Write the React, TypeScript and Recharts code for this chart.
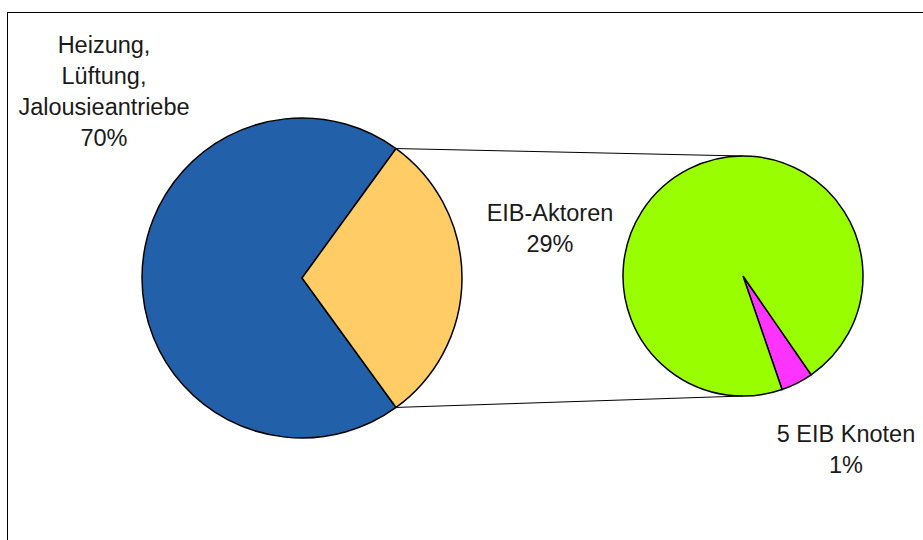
import React from "react";
import { PieChart, Pie, Cell, Customized } from "recharts";

// main pie: the rest vs. the EIB share that gets split in the small pie
const mainNames = ["Heizung, Lüftung, Jalousieantriebe", "EIB"];
const mainValues = [70, 30];
const mainColors = ["#2360AA", "#FFCC66"];

// secondary pie (breakdown of the 30%)
const subNames = ["5 EIB Knoten", "EIB-Aktoren"];
const subValues = [1.3, 28.7];
const subColors = ["#FF33FF", "#99FF00"];

const mainData = mainNames.map((name, i) => ({ name, value: mainValues[i] }));
const subData = subNames.map((name, i) => ({ name, value: subValues[i] }));

// layout
const W = 923;
const H = 540;
const MAIN_CX = 302;
const MAIN_CY = 278;
const MAIN_R = 160;
const SUB_CX = 743;
const SUB_CY = 276;
const SUB_R = 120;
const SUB_START = -71;

const mainTotal = mainValues.reduce((a, b) => a + b, 0);
// the split-off slice sits centered on 3 o'clock
const MAIN_START = (mainValues[1] / mainTotal) * 180;

const FONT = "'Liberation Sans', Arial, sans-serif";
const FS = 23.5;
const LINE = 31;

// where the text blocks sit (center x, first baseline y)
const labelPos: Record<string, { x: number; y: number; lines: string[] }> = {
    "Heizung, Lüftung, Jalousieantriebe": { x: 104, y: 53, lines: ["Heizung,", "Lüftung,", "Jalousieantriebe"] },
    "EIB-Aktoren": { x: 550, y: 221, lines: ["EIB-Aktoren"] },
    "5 EIB Knoten": { x: 846, y: 442, lines: ["5 EIB Knoten"] },
};

const renderLabel = (props: any) => {
    const pos = labelPos[props.name];
    if (!pos) return null;
    const pct = Math.round(props.value) + "%";
    const lines = [...pos.lines, pct];
    return (
        <text
            x={pos.x}
            y={pos.y}
            textAnchor="middle"
            fontFamily={FONT}
            fontSize={FS}
            fill="#1a1a1a"
        >
            {lines.map((l, i) => (
                <tspan key={i} x={pos.x} dy={i === 0 ? 0 : LINE}>
                    {l}
                </tspan>
            ))}
        </text>
    );
};

const Connectors = () => {
    const rad = (MAIN_START * Math.PI) / 180;
    const x1 = MAIN_CX + MAIN_R * Math.cos(rad);
    const yTop = MAIN_CY - MAIN_R * Math.sin(rad);
    const yBot = MAIN_CY + MAIN_R * Math.sin(rad);
    return (
        <g>
            <line x1={x1} y1={yTop} x2={SUB_CX} y2={SUB_CY - SUB_R} stroke="#000" strokeWidth={1} />
            <line x1={x1} y1={yBot} x2={SUB_CX} y2={SUB_CY + SUB_R} stroke="#000" strokeWidth={1} />
        </g>
    );
};

export default function App() {
    return (
        <div style={{ position: "absolute", left: 0, top: 0, width: W, height: H, background: "#fff", overflow: "hidden" }}>
            {/* chart area frame, only left and top edges are inside the picture */}
            <div
                style={{
                    position: "absolute",
                    left: 7,
                    top: 12,
                    width: W - 7,
                    height: H - 12,
                    borderLeft: "1px solid #000",
                    borderTop: "1px solid #000",
                    boxSizing: "border-box",
                }}
            />
            <div style={{ position: "absolute", left: 0, top: 0 }}>
                <PieChart width={W} height={H} margin={{ top: 0, right: 0, bottom: 0, left: 0 }}>
                    <Pie
                        data={mainData}
                        dataKey="value"
                        nameKey="name"
                        cx={MAIN_CX}
                        cy={MAIN_CY}
                        outerRadius={MAIN_R}
                        startAngle={MAIN_START}
                        endAngle={MAIN_START + 360}
                        stroke="#000"
                        strokeWidth={1.5}
                        label={renderLabel}
                        labelLine={false}
                        isAnimationActive={false}
                    >
                        {mainData.map((d, i) => (
                            <Cell key={d.name} fill={mainColors[i]} />
                        ))}
                    </Pie>
                    <Pie
                        data={subData}
                        dataKey="value"
                        nameKey="name"
                        cx={SUB_CX}
                        cy={SUB_CY}
                        outerRadius={SUB_R}
                        startAngle={SUB_START}
                        endAngle={SUB_START + 360}
                        stroke="#000"
                        strokeWidth={1.5}
                        label={renderLabel}
                        labelLine={false}
                        isAnimationActive={false}
                    >
                        {subData.map((d, i) => (
                            <Cell key={d.name} fill={subColors[i]} />
                        ))}
                    </Pie>
                    <Customized component={Connectors} />
                </PieChart>
            </div>
        </div>
    );
}
